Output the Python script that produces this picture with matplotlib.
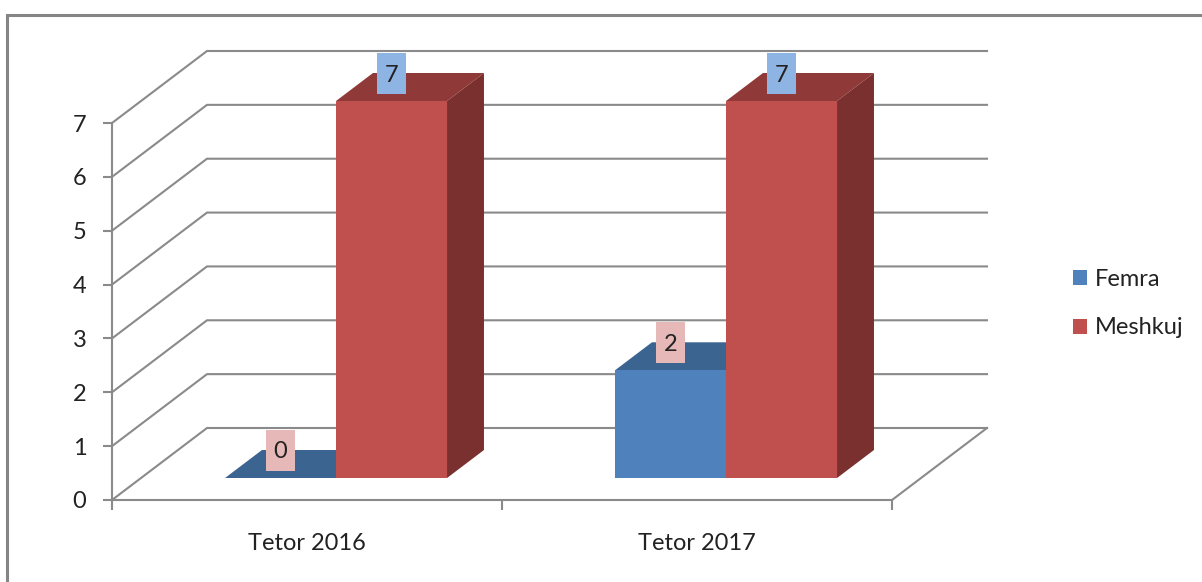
import matplotlib
matplotlib.use("Agg")
import matplotlib.pyplot as plt
from matplotlib.patches import Patch, Rectangle

categories = ["Tetor 2016", "Tetor 2017"]
series_names = ["Femra", "Meshkuj"]
femra = [0, 2]
meshkuj = [7, 7]
y_ticks = [0, 1, 2, 3, 4, 5, 6, 7]

W, H = 1202, 582
GRAY = "#8a8a8a"
TEXT = "#222222"
FONT = "Lato"
FS = 17

fig = plt.figure(figsize=(W / 100, H / 100), dpi=100, facecolor="white")
ax = fig.add_axes([112 / W, (H - 500) / H, 780 / W, 377 / H], facecolor="none")
ax.set_xlim(0, 2)
ax.set_ylim(0, 7)

# depth of the 3D box in data units
DX = 95 / 390
DY = 72 / (377 / 7)
BAR_W = 111 / 390
D0 = 22 / 72
D1 = 50 / 72


def project(x, y, d):
    return x + d * DX, y + d * DY


# walls and gridlines
for v in y_ticks:
    x0, y0 = project(0, v, 0)
    x1, y1 = project(0, v, 1)
    x2, y2 = project(2, v, 1)
    ax.plot([x0, x1, x2], [y0, y1, y2], color=GRAY, lw=1.5, clip_on=False, zorder=1,
            solid_joinstyle="miter")
x1, y1 = project(2, 0, 0)
x2, y2 = project(2, 0, 1)
ax.plot([x1, x2], [y1, y2], color=GRAY, lw=1.5, clip_on=False, zorder=1)


def draw_bar(xc, v, front, top, side, z):
    xl = xc - BAR_W / 2
    xr = xc + BAR_W / 2
    fx, fy = project(xc, 0, D0)
    ax.bar(fx, v, width=BAR_W, bottom=fy, color=front, linewidth=0, zorder=z + 0.2, clip_on=False)
    a = project(xl, v, D0)
    b = project(xr, v, D0)
    c = project(xr, v, D1)
    d = project(xl, v, D1)
    ax.fill([a[0], b[0], c[0], d[0]], [a[1], b[1], c[1], d[1]], color=top, lw=0,
            clip_on=False, zorder=z + 0.1)
    e = project(xr, 0, D0)
    f = project(xr, 0, D1)
    ax.fill([b[0], c[0], f[0], e[0]], [b[1], c[1], f[1], e[1]], color=side, lw=0,
            clip_on=False, zorder=z + 0.1)


def draw_label(xc, v, txt, bg):
    lx, _ = project(xc, v, D0)
    _, ly = project(xc, v, D1)
    pw, ph = 29 / 390, 41 / (377 / 7)
    ax.add_patch(Rectangle((lx - pw / 2, ly - ph / 2), pw, ph, facecolor=bg, edgecolor="none",
                           clip_on=False, zorder=10))
    ax.text(lx, ly, txt, ha="center", va="center_baseline", fontsize=FS, family=FONT, color=TEXT,
            clip_on=False, zorder=11)


BLUE = ("#4F81BD", "#3C6491", "#345780")
RED = ("#C0504D", "#8F3A38", "#7A302E")
for i, cat in enumerate(categories):
    xc = i + 0.5 - BAR_W / 2
    draw_bar(xc, femra[i], *BLUE, 3)
    draw_bar(xc + BAR_W, meshkuj[i], *RED, 4)
    draw_label(xc, femra[i], str(femra[i]), "#E6B8B7")
    draw_label(xc + BAR_W, meshkuj[i], str(meshkuj[i]), "#8DB4E2")

# axes
for s in ("top", "right"):
    ax.spines[s].set_visible(False)
for s in ("left", "bottom"):
    ax.spines[s].set_color(GRAY)
    ax.spines[s].set_linewidth(1.5)
    ax.spines[s].set_zorder(2)
ax.set_yticks(y_ticks)
ax.set_yticklabels([str(v) for v in y_ticks], fontsize=FS, family=FONT, color=TEXT)
ax.tick_params(axis="y", length=6.5, width=1.5, color=GRAY, pad=12)
ax.set_xticks([0, 1, 2])
ax.set_xticklabels([])
ax.tick_params(axis="x", which="major", length=7, width=1.5, color=GRAY)
ax.set_xticks([0.5, 1.5], minor=True)
ax.set_xticklabels(categories, minor=True, fontsize=FS, family=FONT, color=TEXT)
ax.tick_params(axis="x", which="minor", length=0, pad=24)

# legend
handles = [Patch(facecolor=BLUE[0], edgecolor="none"), Patch(facecolor=RED[0], edgecolor="none")]
fig.legend(handles, series_names, loc="upper left", bbox_to_anchor=(1052 / W, 1 - 248 / H),
           frameon=False, prop={"family": FONT, "size": FS}, labelcolor=TEXT,
           handlelength=0.6, handleheight=0.6, handletextpad=0.3, labelspacing=1.15)

# chart frame, open at the right and bottom
fig.add_artist(plt.Line2D([6.5 / W, 6.5 / W, 1], [0, 1 - 14.5 / H, 1 - 14.5 / H],
                          color="#858585", lw=2.2, solid_joinstyle="miter"))

fig.savefig("out.png", dpi=100)
